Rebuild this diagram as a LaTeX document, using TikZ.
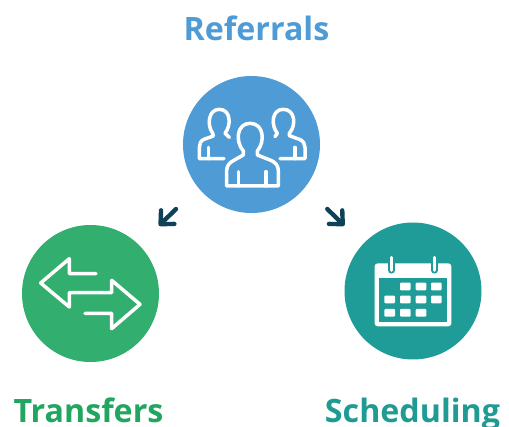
\documentclass[tikz,border=0pt]{standalone}
\usepackage{fontspec}
\setmainfont{Open Sans}
\usetikzlibrary{arrows.meta}
\definecolor{refblue}{HTML}{4F9BD6}
\definecolor{trgreen}{HTML}{32AE6E}
\definecolor{schteal}{HTML}{1F9B98}
\definecolor{trtext}{HTML}{20A65E}
\definecolor{schtext}{HTML}{1F9B94}
\definecolor{arrowdark}{HTML}{0E4258}
\tikzset{
  disc/.style={circle,draw=none,inner sep=0pt,minimum size=137pt},
  heading/.style={anchor=base,inner sep=0pt,font=\fontsize{32.2}{36}\selectfont\bfseries},
  icon/.style={draw=white,line width=3.5pt,line cap=round,line join=round},
  pointer/.style={draw=arrowdark,line width=4.4pt,line cap=round,
    -{Straight Barb[length=10pt,width=19pt,round]}},
  cell/.style={fill=white,rounded corners=1pt},
  crop/.style={x=0.33333pt,y=-0.33333pt}
}
\begin{document}
\begin{tikzpicture}[x=1pt,y=-1pt]
\useasboundingbox (0,0) rectangle (509,427);
\node[disc,fill=refblue] (referrals) at (251.5,144.5) {};
\node[disc,fill=trgreen] (transfers) at (90.5,293.5) {};
\node[disc,fill=schteal] (scheduling) at (413,291) {};
\node[heading,text=refblue] (reflabel) at (256.5,41) {Referrals};
\node[heading,text=trtext] (trlabel) at (88.5,422.3) {Transfers};
\node[heading,text=schtext] (schlabel) at (412.5,422.3) {Scheduling};
% pointers
\coordinate (ltail) at (176,209);
\coordinate (ltip) at (159,225.7);
\coordinate (rtail) at (327.3,209);
\coordinate (rtip) at (344.3,225.7);
\draw[pointer] (ltail) -- (ltip);
\draw[pointer] (rtail) -- (rtip);
% people
\begin{scope}[shift={(180,70)},crop]
  \draw[icon] (98,190) .. controls (80,165) and (85,118) .. (118,118) .. controls (152,118) and (155,165) .. (135,190) -- (148,202);
  \draw[icon] (98,190) -- (100,198) -- (72,208) .. controls (62,212) and (58,222) .. (58,232) -- (58,266) -- (132,266);
  \draw[icon] (85,232) -- (85,266);
  \draw[icon] (292,190) .. controls (272,165) and (275,118) .. (310,118) .. controls (345,118) and (350,165) .. (328,190) -- (328,197) -- (358,208) .. controls (370,212) and (375,222) .. (375,232) -- (375,266) -- (300,266);
  \draw[icon] (292,190) -- (285,200);
  \draw[icon] (345,232) -- (345,266);
  \draw[icon] (190,243) .. controls (165,215) and (170,160) .. (210,160) .. controls (252,160) and (256,215) .. (232,243) -- (232,255) -- (275,272) .. controls (288,278) and (295,290) .. (295,302) -- (295,348) -- (140,348) -- (140,302) .. controls (140,290) and (147,278) .. (160,272) -- (190,255) -- cycle;
  \draw[icon] (175,305) -- (175,348);
  \draw[icon] (258,305) -- (258,348);
\end{scope}
% exchange arrows
\begin{scope}[shift={(20,222)},crop]
  \draw[icon] (228,155) -- (148,155) -- (148,110) -- (62,183) -- (148,255) -- (148,212) -- (275,212) -- (275,175) -- (360,247) -- (275,320) -- (275,274) -- (195,274);
\end{scope}
% calendar
\begin{scope}[shift={(342,222)},crop]
  \fill[white,rounded corners=3pt] (98,124) rectangle (328,313);
  \fill[schteal] (112,167) rectangle (316,300);
  \foreach \cx in {148,278}{
    \draw[schteal,line width=6.5pt,line cap=round] (\cx,108) -- (\cx,145);
    \draw[white,line width=3pt,line cap=round] (\cx,106) -- (\cx,145);
  }
  \foreach \cx/\cy in {174/182,221/182,267/182,127/221,174/221,221/221,267/221,127/261,174/261,221/261}{
    \fill[cell] (\cx,\cy) rectangle ++(32,23);
  }
\end{scope}
\end{tikzpicture}
\end{document}
